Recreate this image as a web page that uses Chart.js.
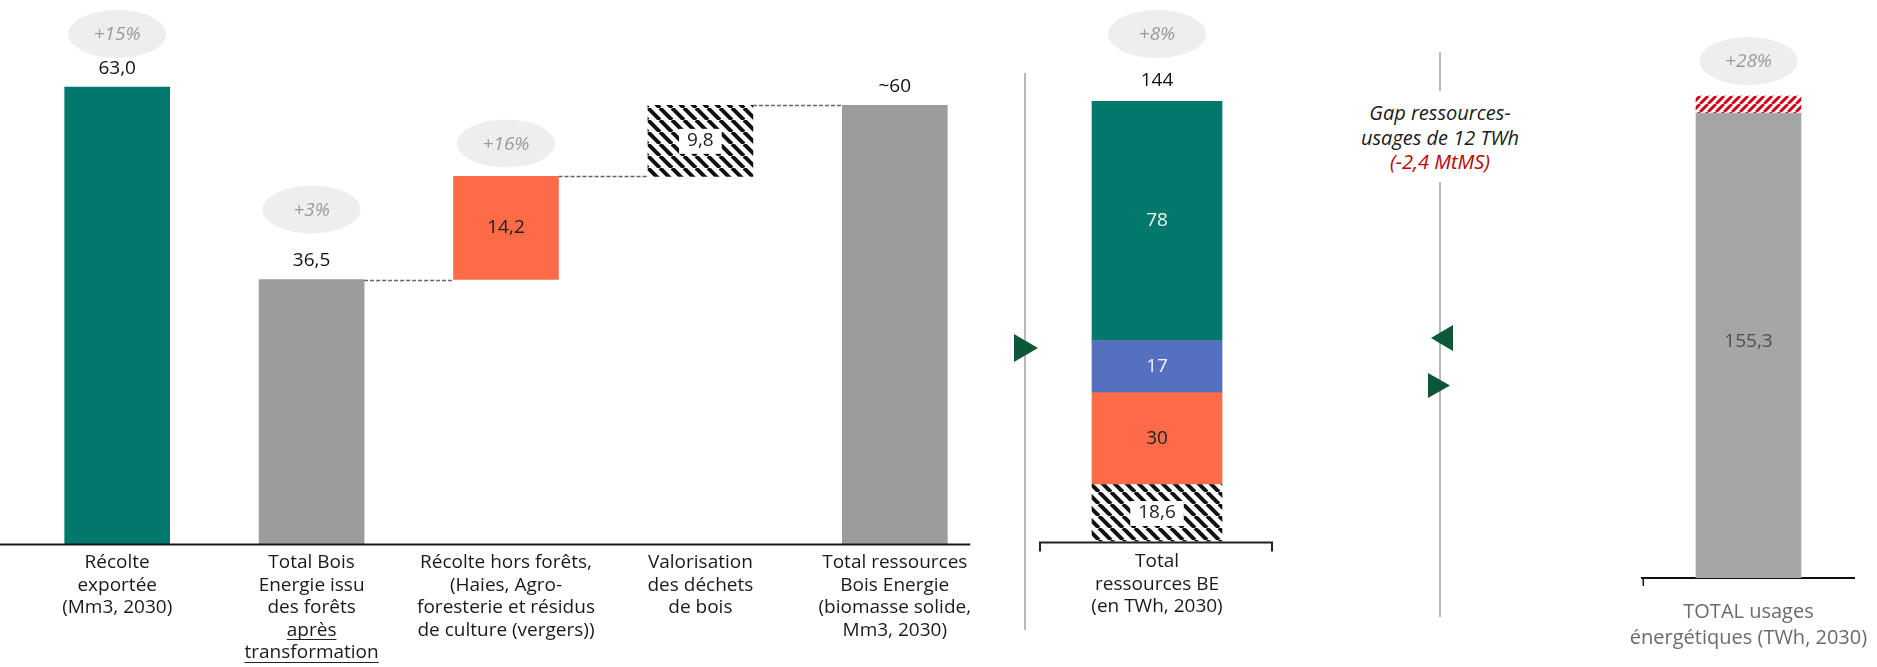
<!DOCTYPE html>
<html lang="fr">
<head>
<meta charset="utf-8">
<title>Ressources et usages Bois Energie 2030</title>
<script src="https://cdn.jsdelivr.net/npm/chart.js@4.4.1/dist/chart.umd.min.js"></script>
<style>
  html, body { margin: 0; padding: 0; background: #fff; }
  #page { position: relative; width: 1877px; height: 667px; overflow: hidden; font-family: "Open Sans", sans-serif; }
  .zone { position: absolute; top: 0; height: 667px; }
  #zoneA { left: 0; width: 1010px; height: 671px; }
  #zoneB { left: 1027px; width: 260px; }
  #zoneC { left: 1620px; width: 257px; height: 700px; }
  #deco { position: absolute; left: 0; top: 0; }
  #gap { position: absolute; left: 1320px; width: 240px; top: 101px; text-align: center;
         font-style: italic; font-size: 20px; line-height: 24.5px; color: #1a1a1a; }
  #gap .rouge { color: #c00000; }
</style>
</head>
<body>
<div id="page">
  <svg id="deco" width="1877" height="667">
    <line x1="1025" y1="73" x2="1025" y2="630" stroke="#a0a0a0" stroke-width="1.5"/>
    <line x1="1440" y1="52" x2="1440" y2="91" stroke="#a0a0a0" stroke-width="1.5"/>
    <line x1="1440" y1="182" x2="1440" y2="617" stroke="#a0a0a0" stroke-width="1.5"/>
    <polygon points="1014,334 1038,348 1014,362" fill="#0b5738"/>
    <polygon points="1453,325 1431,338 1453,351" fill="#0b5738"/>
    <polygon points="1428,373 1450,385.5 1428,398" fill="#0b5738"/>
  </svg>
  <div class="zone" id="zoneA"><canvas id="chartMm3"></canvas></div>
  <div class="zone" id="zoneB"><canvas id="chartBE"></canvas></div>
  <div class="zone" id="zoneC"><canvas id="chartUsages"></canvas></div>
  <div id="gap">Gap ressources-<br>usages de 12 TWh<br><span class="rouge">(-2,4 MtMS)</span></div>
</div>

<script>
// Graphique de gauche : cascade des ressources Bois Energie (Mm3, 2030)
const categoriesMm3 = [
    ["Récolte", "exportée", "(Mm3, 2030)"],
    ["Total Bois", "Energie issu", "des forêts", "après", "transformation"],
    ["Récolte hors forêts,", "(Haies, Agro-", "foresterie et résidus", "de culture (vergers))"],
    ["Valorisation", "des déchets", "de bois"],
    ["Total ressources", "Bois Energie", "(biomasse solide,", "Mm3, 2030)"]
];
const valeursMm3 = [63.0, 36.5, 14.2, 9.8, 60.5];
const typesMm3 = ["total", "total", "ajout", "ajout", "total"];
const etiquettesMm3 = ["63,0", "36,5", "14,2", "9,8", "~60"];
const variationsMm3 = ["+15%", "+3%", "+16%", "", ""];

// Graphique du milieu : ressources BE en TWh (de bas en haut)
const categorieBE = [["Total", "ressources BE", "(en TWh, 2030)"]];
const segmentsBE = ["Déchets de bois", "Hors forêts", "Autres", "Forêts"];
const valeursBE = [18.6, 30, 17, 78];
const etiquettesBE = ["18,6", "30", "17", "78"];
const totalBE = "144";
const variationBE = "+8%";

// Graphique de droite : usages énergétiques en TWh
const categorieUsages = [["TOTAL usages", "énergétiques (TWh, 2030)"]];
const segmentsUsages = ["Usages", "Ecart"];
const valeursUsages = [155.3, 5.7];
const etiquettesUsages = ["155,3", ""];
const variationUsages = "+28%";

// Motif hachuré pour les barres "déchets" et l'écart
function motifHachures(couleur, pas, epaisseur, montant) {
    const c = document.createElement("canvas");
    c.width = pas;
    c.height = pas;
    const g = c.getContext("2d");
    g.fillStyle = "#fff";
    g.fillRect(0, 0, pas, pas);
    g.strokeStyle = couleur;
    g.lineWidth = epaisseur;
    g.beginPath();
    for (let o = -pas; o <= pas; o += pas) {
        if (montant) {
            g.moveTo(o, pas);
            g.lineTo(o + pas, 0);
        } else {
            g.moveTo(o, 0);
            g.lineTo(o + pas, pas);
        }
    }
    g.stroke();
    return g.createPattern(c, "repeat");
}
const hachureNoire = motifHachures("#111", 12, 4, false);
const hachureRouge = motifHachures("#d4001a", 8, 3, true);

function dessinerBulle(ctx, x, y, texte) {
    ctx.save();
    ctx.fillStyle = "#eeeeee";
    ctx.beginPath();
    ctx.ellipse(x, y, 49, 24, 0, 0, Math.PI * 2);
    ctx.fill();
    ctx.fillStyle = "#9a9a9a";
    ctx.font = 'italic 19px "Open Sans"';
    ctx.textAlign = "center";
    ctx.textBaseline = "middle";
    ctx.fillText(texte, x, y + 1);
    ctx.restore();
}

function dessinerValeur(ctx, texte, x, y, couleur, avecFond) {
    if (!texte) return;
    ctx.save();
    ctx.font = '19px "Open Sans"';
    ctx.textAlign = "center";
    ctx.textBaseline = "middle";
    if (avecFond) {
        const w = ctx.measureText(texte).width;
        ctx.fillStyle = "#fff";
        ctx.fillRect(x - w / 2 - 8, y - 12, w + 16, 25);
    }
    ctx.fillStyle = couleur;
    ctx.fillText(texte, x, y);
    ctx.restore();
}

// Construction des barres flottantes de la cascade
let cumul = 0;
const donneesMm3 = valeursMm3.map((v, i) => {
    if (typesMm3[i] === "total") {
        cumul = v;
        return [0, v];
    }
    const d = [cumul, cumul + v];
    cumul += v;
    return d;
});

const policeAxe = { family: "Open Sans", size: 19, lineHeight: 22.5 / 19 };

const annotationsMm3 = {
    id: "annotationsMm3",
    afterDatasetsDraw(chart) {
        const ctx = chart.ctx;
        const meta = chart.getDatasetMeta(0);
        const y = chart.scales.y;
        const x = chart.scales.x;

        // Ligne de base
        const dernier = meta.data[meta.data.length - 1];
        ctx.save();
        ctx.strokeStyle = "#1a1a1a";
        ctx.lineWidth = 2;
        ctx.beginPath();
        ctx.moveTo(0, x.top);
        ctx.lineTo(dernier.x + dernier.width / 2 + 23, x.top);
        ctx.stroke();

        // Connecteurs pointillés
        ctx.setLineDash([4, 2]);
        ctx.strokeStyle = "#666";
        ctx.lineWidth = 1.5;
        for (let i = 0; i < meta.data.length - 1; i++) {
            if (typesMm3[i] !== "ajout" && typesMm3[i + 1] !== "ajout") continue;
            const a = meta.data[i], b = meta.data[i + 1];
            const py = Math.round(y.getPixelForValue(donneesMm3[i][1])) + 0.5;
            ctx.beginPath();
            ctx.moveTo(a.x + a.width / 2, py);
            ctx.lineTo(b.x - b.width / 2, py);
            ctx.stroke();
        }
        ctx.restore();

        meta.data.forEach((bar, i) => {
            const haut = Math.min(bar.y, bar.base);
            const bas = Math.max(bar.y, bar.base);
            const hachure = bar.options.backgroundColor instanceof CanvasPattern;
            if (typesMm3[i] === "ajout") {
                dessinerValeur(ctx, etiquettesMm3[i], bar.x, (haut + bas) / 2, "#222", hachure);
            } else {
                dessinerValeur(ctx, etiquettesMm3[i], bar.x, haut - 19, "#111", false);
            }
            if (variationsMm3[i]) {
                const dy = typesMm3[i] === "ajout" ? 33 : 70;
                dessinerBulle(ctx, bar.x, Math.max(34, haut - dy), variationsMm3[i]);
            }
        });

        // Soulignement de "après transformation"
        ctx.save();
        ctx.font = '19px "Open Sans"';
        ctx.strokeStyle = "#222";
        ctx.lineWidth = 1;
        const lignes = categoriesMm3[1];
        const lh = 22.5;
        [3, 4].forEach(k => {
            const w = ctx.measureText(lignes[k]).width;
            const cy = Math.round(x.top + 7 + k * lh + lh / 2 + 9) + 0.5;
            const cx = meta.data[1].x;
            ctx.beginPath();
            ctx.moveTo(cx - w / 2, cy);
            ctx.lineTo(cx + w / 2, cy);
            ctx.stroke();
        });
        ctx.restore();
    }
};

const annotationsBE = {
    id: "annotationsBE",
    afterDatasetsDraw(chart) {
        const ctx = chart.ctx;
        const couleursTexte = ["#222", "#222", "#f2f2f2", "#f2f2f2"];
        let haut = Infinity, base = 0, cx = 0;
        valeursBE.forEach((v, i) => {
            const bar = chart.getDatasetMeta(i).data[0];
            const h = Math.min(bar.y, bar.base), b = Math.max(bar.y, bar.base);
            const hachure = bar.options.backgroundColor instanceof CanvasPattern;
            dessinerValeur(ctx, etiquettesBE[i], bar.x, (h + b) / 2, couleursTexte[i], hachure);
            haut = Math.min(haut, h);
            base = Math.max(base, b);
            cx = bar.x;
        });
        dessinerValeur(ctx, totalBE, cx, haut - 21, "#111", false);
        dessinerBulle(ctx, cx, Math.max(34, haut - 70), variationBE);

        // Accolade sous la barre
        ctx.save();
        ctx.strokeStyle = "#222";
        ctx.lineWidth = 2;
        ctx.beginPath();
        ctx.moveTo(cx - 117, base + 10);
        ctx.lineTo(cx - 117, base + 1);
        ctx.lineTo(cx + 115, base + 1);
        ctx.lineTo(cx + 115, base + 10);
        ctx.stroke();
        ctx.restore();
    }
};

const annotationsUsages = {
    id: "annotationsUsages",
    afterDatasetsDraw(chart) {
        const ctx = chart.ctx;
        let haut = Infinity, cx = 0;
        valeursUsages.forEach((v, i) => {
            const bar = chart.getDatasetMeta(i).data[0];
            const h = Math.min(bar.y, bar.base), b = Math.max(bar.y, bar.base);
            dessinerValeur(ctx, etiquettesUsages[i], bar.x, (h + b) / 2 - 4, "#4d4d4d", false);
            haut = Math.min(haut, h);
            cx = bar.x;
        });
        dessinerBulle(ctx, cx, Math.max(34, haut - 35), variationUsages);

        const axe = chart.scales.x;
        ctx.save();
        ctx.strokeStyle = "#111";
        ctx.lineWidth = 1.5;
        ctx.beginPath();
        ctx.moveTo(axe.left + 1, axe.top);
        ctx.lineTo(axe.left + 1, axe.top + 8);
        ctx.stroke();
        ctx.restore();
    }
};

function optionsCommunes(maxY, padding, axe) {
    return {
        responsive: true,
        maintainAspectRatio: false,
        animation: false,
        layout: { padding: padding },
        plugins: { legend: { display: false }, tooltip: { enabled: false } },
        scales: {
            x: Object.assign({
                stacked: true,
                grid: { display: false, drawTicks: false },
                ticks: { font: policeAxe, color: "#1a1a1a", padding: 7, maxRotation: 0, autoSkip: false }
            }, axe || {}),
            y: { display: false, stacked: true, min: 0, max: maxY }
        }
    };
}

document.addEventListener("DOMContentLoaded", function() {
    // Cascade Mm3
    new Chart(document.getElementById("chartMm3"), {
        type: "bar",
        data: {
            labels: categoriesMm3,
            datasets: [{
                data: donneesMm3,
                backgroundColor: ["#00786b", "#9c9c9c", "#fe6b48", hachureNoire, "#9c9c9c"],
                borderWidth: 0,
                barThickness: 105
            }]
        },
        options: optionsCommunes(75, { top: 0, bottom: 0, left: 20, right: 18 }, {
            stacked: false,
            border: { display: false }
        }),
        plugins: [annotationsMm3]
    });

    // Ressources BE (TWh)
    const couleursBE = [hachureNoire, "#fe6b48", "#5670c0", "#00786b"];
    new Chart(document.getElementById("chartBE"), {
        type: "bar",
        data: {
            labels: categorieBE,
            datasets: valeursBE.map((v, i) => ({
                label: segmentsBE[i],
                data: [v],
                backgroundColor: couleursBE[i],
                borderWidth: 0,
                barThickness: 130
            }))
        },
        options: optionsCommunes(176.7, { top: 0, bottom: 40, left: 0, right: 0 }, {
            border: { display: false },
            ticks: { font: policeAxe, color: "#1a1a1a", padding: 9, maxRotation: 0, autoSkip: false }
        }),
        plugins: [annotationsBE]
    });

    // Usages énergétiques (TWh)
    new Chart(document.getElementById("chartUsages"), {
        type: "bar",
        data: {
            labels: categorieUsages,
            datasets: valeursUsages.map((v, i) => ({
                label: segmentsUsages[i],
                data: [v],
                backgroundColor: i === 0 ? "#a6a6a6" : hachureRouge,
                borderWidth: 0,
                barThickness: 105
            }))
        },
        options: optionsCommunes(193.1, { top: 0, bottom: 28, left: 0, right: 0 }, {
            border: { display: true, color: "#111", width: 2 },
            ticks: { font: { family: "Open Sans", size: 20, lineHeight: 1.3 }, color: "#6b6b6b", padding: 21, maxRotation: 0, autoSkip: false }
        }),
        plugins: [annotationsUsages]
    });
});
</script>
</body>
</html>
